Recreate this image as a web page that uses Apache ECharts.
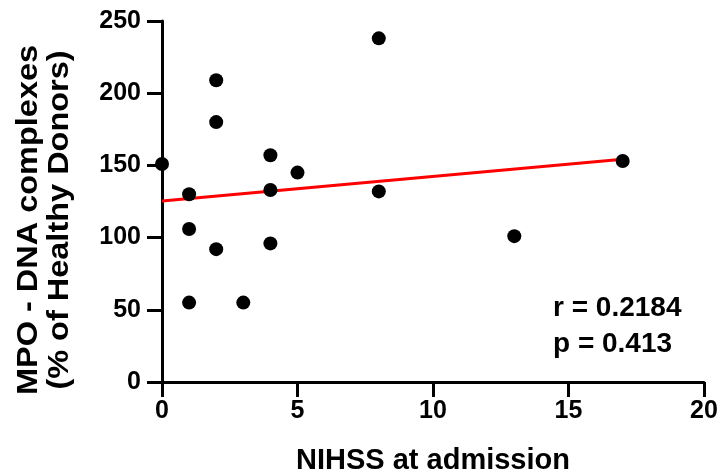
<!DOCTYPE html>
<html>
<head>
<meta charset="utf-8">
<script src="https://cdn.jsdelivr.net/npm/echarts@6/dist/echarts.min.js"></script>
<style>
html,body{margin:0;padding:0;background:#fff;}
#chart{width:721px;height:475px;}
</style>
</head>
<body>
<div id="chart"></div>
<script>
const nihss = [0, 1, 1, 1, 2, 2, 2, 3, 4, 4, 4, 5, 8, 8, 13, 17];
const mpoDna = [151, 130, 106, 55, 209, 180, 92, 55, 157, 133, 96, 145, 238, 132, 101, 153];
const fitX = [0, 17];
const fitY = [125.4, 154.3];
const xTicks = [0, 5, 10, 15, 20];
const yTicks = [0, 50, 100, 150, 200, 250];
const xTitle = 'NIHSS at admission';
const yTitle = ['MPO - DNA complexes', '(% of Healthy Donors)'];
const statsText = ['r = 0.2184', 'p = 0.413'];

const FONT = '"Liberation Sans", Arial, Helvetica, sans-serif';
const TICK_LEN = 15;
const chart = echarts.init(document.getElementById('chart'), null, {renderer: 'canvas'});

const points = nihss.map((x, i) => [x, mpoDna[i]]);
const fitLine = fitX.map((x, i) => [x, fitY[i]]);
const xMin = xTicks[0], xMax = xTicks[xTicks.length - 1];
const yMin = yTicks[0], yMax = yTicks[yTicks.length - 1];

chart.setOption({
  backgroundColor: '#ffffff',
  animation: false,
  grid: {left: 162, right: 17, top: 21, bottom: 93, containLabel: false, outerBoundsMode: 'none'},
  xAxis: {
    type: 'value',
    min: xMin, max: xMax, interval: 5,
    name: xTitle,
    nameLocation: 'middle',
    nameGap: 64,
    nameTextStyle: {fontFamily: FONT, fontWeight: 'bold', fontSize: 29, color: '#000'},
    axisLine: {show: true, onZero: false, lineStyle: {color: '#000', width: 3}},
    axisTick: {show: true, length: TICK_LEN, lineStyle: {color: '#000', width: 3}},
    axisLabel: {fontFamily: FONT, fontWeight: 'bold', fontSize: 25, color: '#000', margin: 17},
    splitLine: {show: false}
  },
  yAxis: {
    type: 'value',
    min: yMin, max: yMax, interval: 50,
    axisLine: {show: true, onZero: false, lineStyle: {color: '#000', width: 3}},
    axisTick: {show: true, length: TICK_LEN, lineStyle: {color: '#000', width: 3}},
    axisLabel: {fontFamily: FONT, fontWeight: 'bold', fontSize: 25, color: '#000', margin: 21},
    splitLine: {show: false}
  },
  graphic: [
    {
      type: 'text',
      x: 44, y: 220,
      rotation: Math.PI / 2,
      scaleX: 1.12,
      style: {
        text: yTitle.join('\n'),
        fontFamily: FONT, fontWeight: 'bold', fontSize: 29, lineHeight: 31,
        fill: '#000', align: 'center', verticalAlign: 'middle'
      }
    },
    {
      type: 'text',
      left: 553, top: 290,
      style: {
        text: statsText.join('\n'),
        fontFamily: FONT, fontWeight: 'bold', fontSize: 28, lineHeight: 36,
        fill: '#000'
      }
    }
  ],
  series: [
    {
      type: 'line',
      data: fitLine,
      showSymbol: false,
      symbol: 'none',
      lineStyle: {color: '#ff0000', width: 3},
      z: 2,
      silent: true
    },
    {
      type: 'scatter',
      data: points,
      symbol: 'circle',
      symbolSize: 14,
      itemStyle: {color: '#000', opacity: 1},
      z: 3
    }
  ]
});
</script>
</body>
</html>
